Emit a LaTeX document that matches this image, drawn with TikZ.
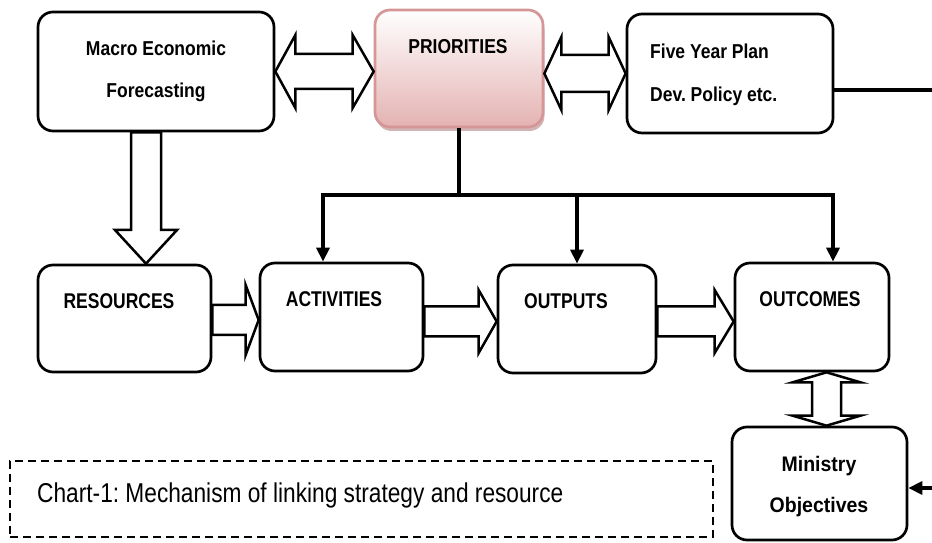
\documentclass[tikz,border=0pt]{standalone}
\usepackage{fontspec}
\setmainfont{Liberation Sans}
\usepackage{graphicx}
\usetikzlibrary{calc,arrows.meta,shadows}
\definecolor{prioTop}{RGB}{255,255,255}
\definecolor{prioBot}{RGB}{228,178,178}
\definecolor{prioLine}{RGB}{212,150,150}
\definecolor{prioShadow}{RGB}{180,130,130}
\newcommand\vstretch[2]{\scalebox{1}[#1]{#2}}
\frenchspacing
\begin{document}
\begin{tikzpicture}[x=1pt,y=1pt,
  box/.style={draw, line width=2.7pt, rounded corners=15pt, fill=white, inner sep=0pt},
  lbl/.style={font=\fontsize{17.5}{21}\selectfont\bfseries, inner sep=0pt, anchor=base},
  lblb/.style={font=\fontsize{19.5}{23}\selectfont\bfseries, inner sep=0pt, anchor=base},
  blk/.style={draw, line width=2.5pt, fill=white, line join=miter},
  conn/.style={line width=3.2pt},
  tip/.style={-{Triangle[length=14pt,width=13pt]}}
]
\useasboundingbox (0,0) rectangle (932,543);
\clip (0,0) rectangle (932,543);

% boxes
\node[box, minimum width=236pt, minimum height=119pt] (macro) at (156,471.5) {};
\node[box, draw=prioLine, top color=prioTop, bottom color=prioBot,
      drop shadow={shadow xshift=1.5pt, shadow yshift=-4pt, fill=prioShadow, opacity=0.6},
      minimum width=168pt, minimum height=117pt] (prio) at (459,474.5) {};
\node[box, minimum width=206pt, minimum height=119pt] (five) at (730,469.5) {};
\node[box, minimum width=173pt, minimum height=107pt] (res) at (124.5,224.5) {};
\node[box, minimum width=163pt, minimum height=108pt] (act) at (341.5,226) {};
\node[box, minimum width=158pt, minimum height=108pt] (out) at (577,224) {};
\node[box, minimum width=154pt, minimum height=108pt] (outc) at (812,226) {};
\node[box, minimum width=175pt, minimum height=113pt] (min) at (819.5,59.5) {};
\node[draw, dash pattern=on 8pt off 5pt, line width=2pt, minimum width=703pt, minimum height=76pt] (chart) at (361.5,44) {};

% labels
\node[lbl] (tmacro1) at (156,487) {\vstretch{1.15}{Macro Economic}};
\node[lbl] (tmacro2) at (156,445) {\vstretch{1.15}{Forecasting}};
\node[lbl] (tprio) at (458,489) {\vstretch{1.15}{PRIORITIES}};
\node[lbl, anchor=base west] (tfive1) at (650,484) {\vstretch{1.15}{Five Year Plan}};
\node[lbl, anchor=base west] (tfive2) at (650,441) {\vstretch{1.15}{Dev. Policy etc.}};
\node[lbl] (tres) at (119,234) {\vstretch{1.22}{RESOURCES}};
\node[lbl] (tact) at (334,236) {\vstretch{1.22}{ACTIVITIES}};
\node[lbl] (tout) at (566,234) {\vstretch{1.22}{OUTPUTS}};
\node[lbl] (toutc) at (810,236) {\vstretch{1.22}{OUTCOMES}};
\node[lblb] (tmin1) at (819,71) {\vstretch{1.08}{Ministry}};
\node[lblb] (tmin2) at (819,30) {\vstretch{1.08}{Objectives}};
\node[font=\fontsize{22.7}{27}\selectfont, inner sep=0pt, anchor=base west] (tchart) at (37,40) {\vstretch{1.2}{Chart-1: Mechanism of linking strategy and resource}};

% block arrows
\draw[blk] let \p1=(macro.east), \p2=(prio.west) in
  (\x1,471.5) -- (\x1+20,508) -- (\x1+20,489) -- (\x2-21,489) -- (\x2-21,508) -- (\x2,471.5)
  -- (\x2-21,435) -- (\x2-21,454) -- (\x1+20,454) -- (\x1+20,435) -- cycle;
\draw[blk] let \p1=(prio.east), \p2=(five.west) in
  (\x1,469.5) -- (\x1+17,506) -- (\x1+17,488) -- (\x2-17,488) -- (\x2-17,506) -- (\x2,469.5)
  -- (\x2-17,433) -- (\x2-17,451) -- (\x1+17,451) -- (\x1+17,433) -- cycle;
\draw[blk] let \p1=(macro.south), \p2=(res.north) in
  (131,\y1) -- (131,313) -- (115,313) -- (146,\y2) -- (177,313) -- (161,313) -- (161,\y1) -- cycle;
\draw[blk] let \p1=(res.east), \p2=(act.west) in
  (\x1,238) -- (\x2-13,238) -- (\x2-13,258) -- (\x2,223) -- (\x2-13,188) -- (\x2-13,208) -- (\x1,208) -- cycle;
\draw[blk] let \p1=(act.east), \p2=(out.west) in
  (\x1,236.5) -- (\x2-18,236.5) -- (\x2-18,253) -- (\x2,221.5) -- (\x2-18,190) -- (\x2-18,206.5) -- (\x1,206.5) -- cycle;
\draw[blk] let \p1=(out.east), \p2=(outc.west) in
  (\x1,236.5) -- (\x2-19,236.5) -- (\x2-19,253) -- (\x2,221.5) -- (\x2-19,190) -- (\x2-19,206.5) -- (\x1,206.5) -- cycle;
\draw[blk] let \p1=(outc.south), \p2=(min.north) in
  (826.5,\y1) -- (860.5,\y1-10) -- (841,\y1-10) -- (841,\y2+10) -- (860.5,\y2+10) -- (826.5,\y2)
  -- (792.5,\y2+10) -- (812,\y2+10) -- (812,\y1-10) -- (792.5,\y1-10) -- cycle;

% connectors
\coordinate (jn) at (459,348);
\coordinate (ja) at (323,348);
\coordinate (jb) at (577,348);
\coordinate (jc) at (833,348);
\draw[conn] (prio.south) -- (jn);
\draw[conn, line cap=rect] (ja) -- (jc);
\draw[conn,tip] (ja) -- (ja |- act.north);
\draw[conn,tip] (jb) -- (jb |- out.north);
\draw[conn,tip] (jc) -- (jc |- outc.north);
\coordinate (e1) at (950,453);
\coordinate (e2) at (950,55);
\draw[conn,tip] (five.east |- e1) -- (e1) -- (e2) -- (e2 -| min.east);
\end{tikzpicture}
\end{document}
